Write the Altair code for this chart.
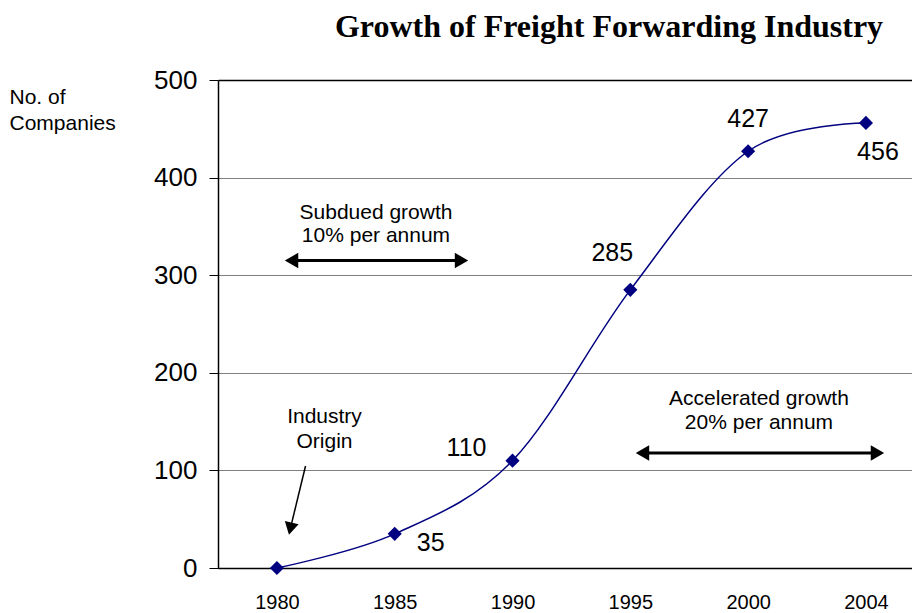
import json

import altair as alt
import pandas as pd

# Number of freight forwarding companies by year
years = ["1980", "1985", "1990", "1995", "2000", "2004"]
companies = [0, 35, 110, 285, 427, 456]

# Annotation texts, placed in data coordinates (category index, companies)
note_texts = ["Subdued growth", "10% per annum", "Industry", "Origin",
              "Accelerated growth", "20% per annum"]
note_x = [0.841, 0.841, 0.404, 0.404, 4.092, 4.092]
note_y = [363.7, 340.0, 155.0, 129.4, 173.0, 148.6]

SANS = "Liberation Sans"
SERIF = "Liberation Serif"
NAVY = "#000080"

df = pd.DataFrame({"idx": list(range(len(years))), "year": years, "companies": companies})
notes = pd.DataFrame({"idx": note_x, "companies": note_y, "label": note_texts})

x_enc = alt.X(
    "idx:Q",
    scale=alt.Scale(domain=[-0.5, 5.391], nice=False, zero=False),
    axis=alt.Axis(
        values=list(range(len(years))),
        labelExpr=f"{json.dumps(years)}[datum.value]",
        ticks=False, tickSize=0, grid=False,
        labelFont=SANS, labelFontSize=20, labelColor="black",
        labelBaseline="top", labelPadding=24,
        domainColor="black", domainWidth=1.5,
    ),
    title=None,
)
y_enc = alt.Y(
    "companies:Q",
    scale=alt.Scale(domain=[0, 500], nice=False),
    axis=alt.Axis(
        values=[0, 100, 200, 300, 400, 500],
        tickSize=9, tickColor="black", tickWidth=1,
        labelFont=SANS, labelFontSize=26, labelColor="black", labelPadding=12,
        domainColor="black", domainWidth=1.5,
        grid=True,
        gridColor=alt.condition("datum.value === 500", alt.value("black"), alt.value("#808080")),
        gridWidth=alt.condition("datum.value === 500", alt.value(1.5), alt.value(1)),
        titleFont=SANS, titleFontSize=21, titleFontWeight="normal", titleColor="black",
        titleAngle=0, titleAlign="left", titleBaseline="top",
        titleX=-209, titleY=6, titleLineHeight=26,
    ),
    title=["No. of", "Companies"],
)

line = alt.Chart(df).mark_line(color=NAVY, strokeWidth=1.5, interpolate="cardinal").encode(
    x=x_enc, y=y_enc
)
points = alt.Chart(df).mark_point(
    shape="diamond", filled=True, color=NAVY, opacity=1, size=200
).encode(x=x_enc, y=y_enc)

# value labels, each nudged away from its marker
label_offsets = {"1985": (36, 9), "1990": (-46, -13), "1995": (-18, -37),
                 "2000": (0, -32), "2004": (12, 29)}
value_labels = [
    alt.Chart(df).transform_filter(alt.datum.year == yr).mark_text(
        font=SANS, fontSize=25, color="black", dx=dx, dy=dy
    ).encode(x=x_enc, y=y_enc, text=alt.Text("companies:Q"))
    for yr, (dx, dy) in label_offsets.items()
]

note_layer = alt.Chart(notes).mark_text(font=SANS, fontSize=21, color="black").encode(
    x=x_enc, y=y_enc, text="label:N"
)

# double-headed growth arrows
shafts = pd.DataFrame({
    "idx": [0.124, 3.103], "idx2": [1.567, 5.098],
    "companies": [315.0, 117.8], "companies2": [315.0, 117.8],
})
shaft_layer = alt.Chart(shafts).mark_rule(color="black", strokeWidth=3).encode(
    x=x_enc, x2="idx2:Q", y=y_enc, y2="companies2:Q"
)
left_heads = pd.DataFrame({"idx": [0.124, 3.103], "companies": [315.0, 117.8]})
right_heads = pd.DataFrame({"idx": [1.567, 5.098], "companies": [315.0, 117.8]})
left_layer = alt.Chart(left_heads).mark_point(
    shape="triangle-left", filled=True, color="black", opacity=1, size=240
).encode(x=x_enc, y=y_enc)
right_layer = alt.Chart(right_heads).mark_point(
    shape="triangle-right", filled=True, color="black", opacity=1, size=240
).encode(x=x_enc, y=y_enc)

# pointer to the industry origin
origin_shaft = pd.DataFrame({"idx": [0.243], "idx2": [0.114], "companies": [104.5], "companies2": [40.3]})
origin_shaft_layer = alt.Chart(origin_shaft).mark_rule(color="black", strokeWidth=1.5).encode(
    x=x_enc, x2="idx2:Q", y=y_enc, y2="companies2:Q"
)
origin_head = pd.DataFrame({"idx": [0.114], "companies": [40.3]})
origin_head_layer = alt.Chart(origin_head).mark_point(
    shape="triangle-down", filled=True, color="black", opacity=1, size=200, angle=13
).encode(x=x_enc, y=y_enc)

chart = alt.layer(
    line, points, *value_labels, note_layer,
    shaft_layer, left_layer, right_layer, origin_shaft_layer, origin_head_layer,
).properties(
    width=694,
    height=488,
    autosize=alt.AutoSizeParams(type="none"),
    padding={"left": 218, "top": 80, "right": 0, "bottom": 45},
    title=alt.TitleParams(
        "Growth of Freight Forwarding Industry",
        font=SERIF, fontSize=32, fontWeight="bold", color="black",
        anchor="middle", dx=44, dy=32, baseline="alphabetic", offset=30,
    ),
).configure_view(stroke=None).configure(background="white")

chart.save("out.html", embed_options={"renderer": "svg", "actions": False})
